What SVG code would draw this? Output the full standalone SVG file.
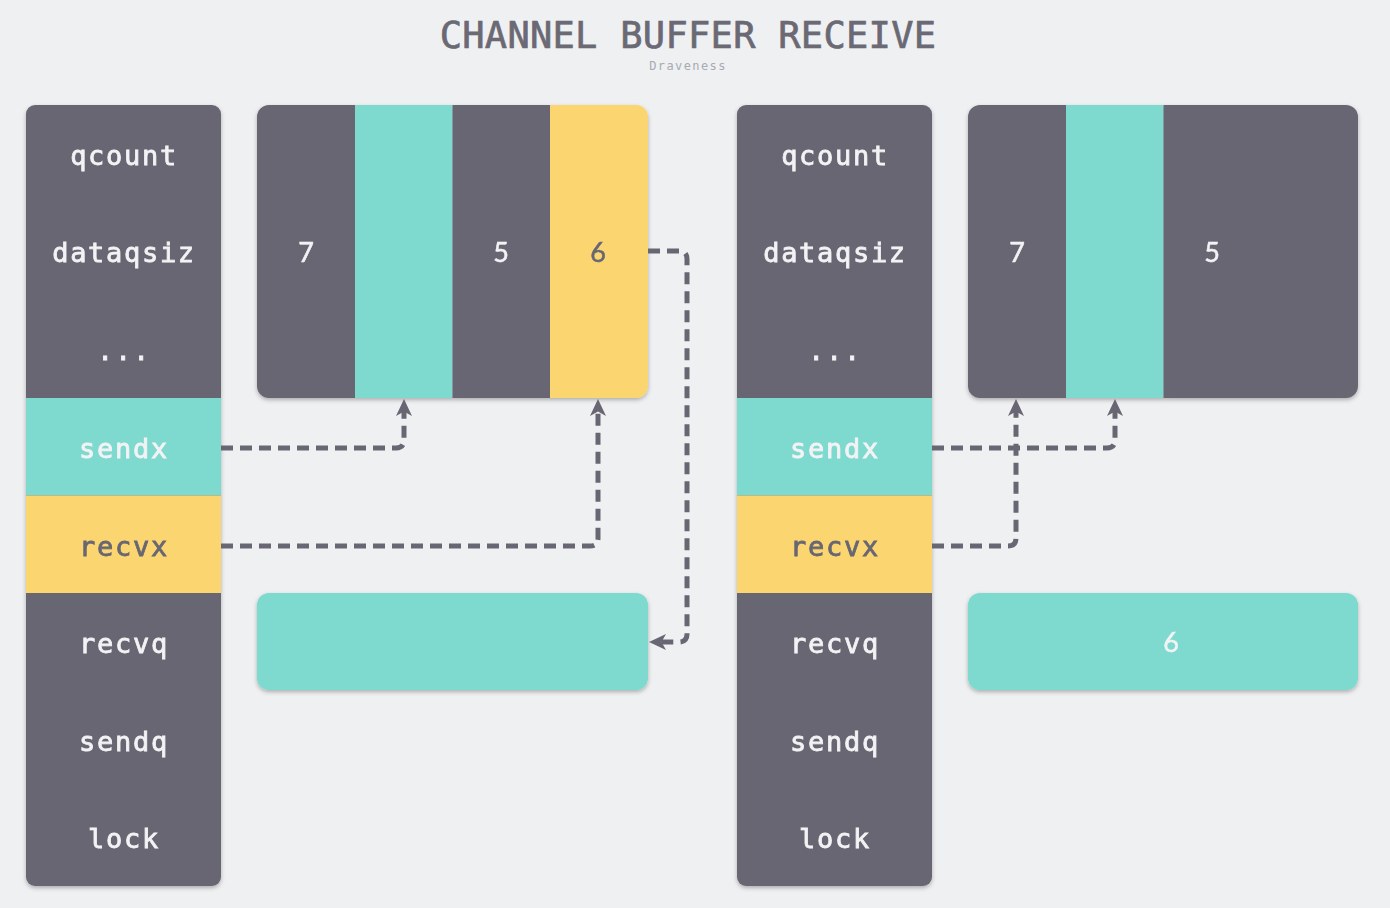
<svg xmlns="http://www.w3.org/2000/svg" width="1390" height="908" viewBox="0 0 1390 908">
  <style>
    .bg { fill: #eff0f2; }
    .dark { fill: #686673; }
    .teal { fill: #7ed9ce; }
    .yellow { fill: #fad56f; }
    .title { font-family: "DejaVu Sans Mono", "Liberation Mono", monospace; font-size: 37px; letter-spacing: 0.3px; fill: #6a6974; stroke: #6a6974; stroke-width: 0.7px; text-anchor: middle; }
    .sub { font-family: "DejaVu Sans Mono", "Liberation Mono", monospace; font-size: 12px; fill: #a7abb3; text-anchor: middle; letter-spacing: 1.4px; }
    .lbl { font-family: "DejaVu Sans Mono", "Liberation Mono", monospace; font-size: 27px; letter-spacing: 1.7px; stroke-width: 0.8px; text-anchor: middle; }
    .num { font-family: "Lato", "Open Sans", sans-serif; font-size: 27px; stroke-width: 0.5px; text-anchor: middle; }
    .light { fill: #f3f3f5; stroke: #f3f3f5; }
    .ink { fill: #686673; stroke: #686673; }
    .link { fill: none; stroke: #686673; stroke-width: 5; stroke-dasharray: 12 7; }
  </style>
  <defs>
    <filter id="shadow" x="-5%" y="-5%" width="110%" height="115%">
      <feDropShadow dx="0" dy="2" stdDeviation="2" flood-color="#000" flood-opacity="0.28"/>
    </filter>
    <marker id="arrow" markerUnits="userSpaceOnUse" viewBox="0 0 18 18" markerWidth="18" markerHeight="18" refX="7" refY="9" orient="auto">
      <path d="M1,1 L18,9 L1,17 L5.5,9 z" fill="#686673"/>
    </marker>
    <clipPath id="clipL"><rect x="26" y="105" width="195" height="781" rx="9"/></clipPath>
    <clipPath id="clipR"><rect x="737" y="105" width="195" height="781" rx="9"/></clipPath>
    <clipPath id="clipBL"><rect x="257" y="105" width="391" height="293" rx="12"/></clipPath>
    <clipPath id="clipBR"><rect x="968" y="105" width="390" height="293" rx="12"/></clipPath>
  </defs>

  <rect class="bg" x="0" y="0" width="1390" height="908"/>

  <text class="title" x="688" y="48">CHANNEL BUFFER RECEIVE</text>
  <text class="sub" x="688" y="70">Draveness</text>

  <!-- hchan struct, before the receive -->
  <g id="hchan-before" filter="url(#shadow)">
    <g clip-path="url(#clipL)">
      <rect class="dark" x="26" y="105" width="195" height="781"/>
      <rect class="teal" x="26" y="398" width="195" height="97.5"/>
      <rect class="yellow" x="26" y="495.5" width="195" height="97.5"/>
    </g>
    <text class="lbl light" x="124" y="165">qcount</text>
    <text class="lbl light" x="124" y="262">dataqsiz</text>
    <text class="lbl light" x="124" y="360">...</text>
    <text class="lbl light" x="124" y="458">sendx</text>
    <text class="lbl ink" x="124" y="556">recvx</text>
    <text class="lbl light" x="124" y="653">recvq</text>
    <text class="lbl light" x="124" y="751">sendq</text>
    <text class="lbl light" x="124" y="848">lock</text>
  </g>

  <!-- ring buffer, before the receive -->
  <g id="buf-before" filter="url(#shadow)">
    <g clip-path="url(#clipBL)">
      <rect class="dark" x="257" y="105" width="98" height="293"/>
      <rect class="teal" x="355" y="105" width="97.5" height="293"/>
      <rect class="dark" x="452.5" y="105" width="97.5" height="293"/>
      <rect class="yellow" x="550" y="105" width="98" height="293"/>
    </g>
    <text class="num light" x="306" y="262">7</text>
    <text class="num light" x="501" y="262">5</text>
    <text class="num ink" x="598" y="262">6</text>
  </g>

  <!-- receiving slot, empty -->
  <g id="recv-before" filter="url(#shadow)">
    <rect class="teal" x="257" y="593" width="391" height="97" rx="12"/>
  </g>

  <!-- hchan struct, after the receive -->
  <g id="hchan-after" filter="url(#shadow)">
    <g clip-path="url(#clipR)">
      <rect class="dark" x="737" y="105" width="195" height="781"/>
      <rect class="teal" x="737" y="398" width="195" height="97.5"/>
      <rect class="yellow" x="737" y="495.5" width="195" height="97.5"/>
    </g>
    <text class="lbl light" x="835" y="165">qcount</text>
    <text class="lbl light" x="835" y="262">dataqsiz</text>
    <text class="lbl light" x="835" y="360">...</text>
    <text class="lbl light" x="835" y="458">sendx</text>
    <text class="lbl ink" x="835" y="556">recvx</text>
    <text class="lbl light" x="835" y="653">recvq</text>
    <text class="lbl light" x="835" y="751">sendq</text>
    <text class="lbl light" x="835" y="848">lock</text>
  </g>

  <!-- ring buffer, after the receive -->
  <g id="buf-after" filter="url(#shadow)">
    <g clip-path="url(#clipBR)">
      <rect class="dark" x="968" y="105" width="98" height="293"/>
      <rect class="teal" x="1066" y="105" width="97.5" height="293"/>
      <rect class="dark" x="1163.5" y="105" width="194.5" height="293"/>
    </g>
    <text class="num light" x="1017" y="262">7</text>
    <text class="num light" x="1212" y="262">5</text>
  </g>

  <!-- receiving slot, holding the value -->
  <g id="recv-after" filter="url(#shadow)">
    <rect class="teal" x="968" y="593" width="390" height="97" rx="12"/>
    <text class="num light" x="1171" y="652">6</text>
  </g>

  <g id="connectors">
    <path class="link" d="M221,448 H396 Q404,448 404,440 V410" marker-end="url(#arrow)"/>
    <path class="link" d="M221,546 H590 Q598,546 598,538 V410" marker-end="url(#arrow)"/>
    <path class="link" d="M648,251 H679 Q687,251 687,259 V634 Q687,642 679,642 H660" marker-end="url(#arrow)"/>
    <path class="link" d="M932,448 H1107 Q1115,448 1115,440 V410" marker-end="url(#arrow)"/>
    <path class="link" d="M932,546 H1008 Q1016,546 1016,538 V410" marker-end="url(#arrow)"/>
  </g>
</svg>
